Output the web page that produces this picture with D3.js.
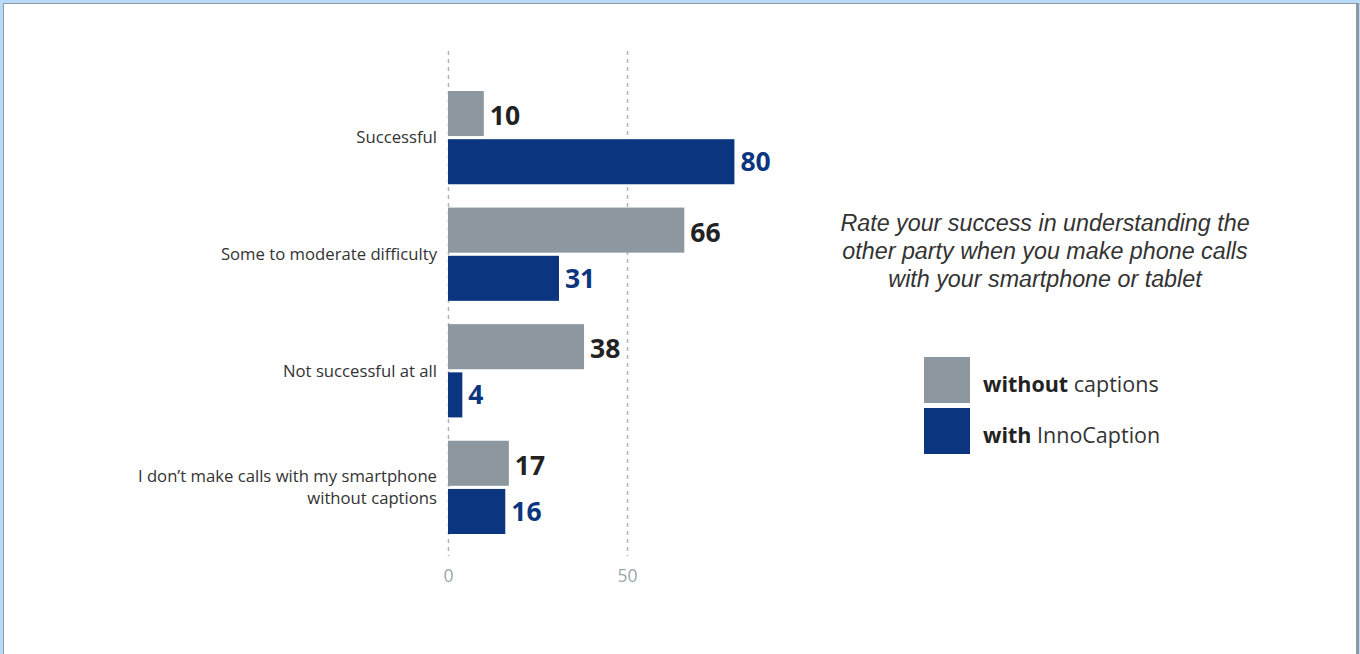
<!DOCTYPE html>
<html>
<head>
<meta charset="utf-8">
<script src="https://cdn.jsdelivr.net/npm/d3@7"></script>
<style>
  html, body { margin: 0; padding: 0; background: #b9d9f8; overflow: hidden; }
  svg { display: block; font-family: "Open Sans", Lato, sans-serif; }
</style>
</head>
<body>
<svg id="chart" width="1360" height="654"></svg>
<script>
// Survey answers, in percent
const categories = [
  "Successful",
  "Some to moderate difficulty",
  "Not successful at all",
  "I don\u2019t make calls with my smartphone\nwithout captions"
];
const seriesKeys = ["without", "with"];
const withoutCaptions = [10, 66, 38, 17];
const withInnoCaption = [80, 31, 4, 16];
const xTicks = [0, 50];
const legendBold = ["without", "with"];
const legendRest = [" captions", " InnoCaption"];
const titleLines = [
  "Rate your success in understanding the",
  "other party when you make phone calls",
  "with your smartphone or tablet"
];

const colors = { without: "#8c979f", with: "#0c3580" };
const labelColors = { without: "#222222", with: "#0c3580" };

const svg = d3.select("#chart");

// Panel frame
svg.append("rect").attr("x", 0).attr("y", 0).attr("width", 1360).attr("height", 654).attr("fill", "#b9d9f8");
svg.append("rect").attr("x", 3).attr("y", 3).attr("width", 1356).attr("height", 660).attr("fill", "#8d99a3");
svg.append("rect").attr("x", 4).attr("y", 4).attr("width", 1352).attr("height", 660).attr("fill", "#ffffff");

const rows = categories.map((c, i) => ({
  category: c,
  without: withoutCaptions[i],
  with: withInnoCaption[i]
}));

const x = d3.scaleLinear().domain([0, 100]).range([448, 806]);
const y0 = d3.scaleBand().domain(categories).range([91, 534]).paddingInner(0.2).paddingOuter(0);
const y1 = d3.scaleBand().domain(seriesKeys).range([0, y0.bandwidth()]).paddingInner(0.065);

// Dashed vertical grid
svg.append("g").selectAll("line").data(xTicks).join("line")
  .attr("x1", d => x(d) + 0.5).attr("x2", d => x(d) + 0.5)
  .attr("y1", 51).attr("y2", 556)
  .attr("stroke", "#b4b4b4").attr("stroke-width", 1.5)
  .attr("stroke-dasharray", "4,4");

// Tick labels
const xAxis = d3.axisBottom(x).tickValues(xTicks).tickSize(0).tickPadding(0);
const axisG = svg.append("g").attr("transform", "translate(0,568)").call(xAxis);
axisG.select(".domain").remove();
axisG.selectAll("text")
  .attr("font-family", "\"Open Sans\", sans-serif")
  .attr("font-size", 17.5)
  .attr("fill", "#9ba7b1")
  .attr("dy", "0.8em");

// Bars
const groups = svg.append("g").selectAll("g").data(rows).join("g")
  .attr("transform", d => `translate(0,${y0(d.category)})`);

groups.selectAll("rect").data(d => seriesKeys.map(k => ({ key: k, value: d[k] }))).join("rect")
  .attr("x", x(0))
  .attr("y", d => y1(d.key))
  .attr("width", d => x(d.value) - x(0))
  .attr("height", y1.bandwidth())
  .attr("fill", d => colors[d.key]);

// Value labels
groups.selectAll("text.value").data(d => seriesKeys.map(k => ({ key: k, value: d[k] }))).join("text")
  .attr("class", "value")
  .attr("x", d => x(d.value) + 6)
  .attr("y", d => y1(d.key) + y1.bandwidth() / 2 + (d.key === "without" ? 2 : 0))
  .attr("dy", "0.36em")
  .attr("font-size", 26.5)
  .attr("font-weight", 700)
  .attr("fill", d => labelColors[d.key])
  .text(d => d.value);

// Category labels
const catLabels = svg.append("g").selectAll("text").data(categories).join("text")
  .attr("x", 437)
  .attr("y", d => y0(d) + y0.bandwidth() / 2)
  .attr("text-anchor", "end")
  .attr("font-size", 16.7)
  .attr("fill", "#333333");
catLabels.each(function(d) {
  const lines = d.split("\n");
  const t = d3.select(this);
  lines.forEach((ln, i) => {
    t.append("tspan")
      .attr("x", 437)
      .attr("dy", i === 0 ? `${0.35 - (lines.length - 1) * 0.66}em` : "1.32em")
      .text(ln);
  });
});

// Title (oblique sans)
svg.append("g").selectAll("text").data(titleLines).join("text")
  .attr("x", 1045)
  .attr("y", (d, i) => 231 + i * 28)
  .attr("text-anchor", "middle")
  .attr("font-family", "\"Liberation Sans\", Arial, sans-serif")
  .attr("font-size", 23.3)
  .attr("font-style", "italic")
  .attr("fill", "#333333")
  .text(d => d);

// Legend
const legend = svg.append("g").selectAll("g").data(seriesKeys).join("g")
  .attr("transform", (d, i) => `translate(924,${357 + i * 51})`);
legend.append("rect").attr("width", 46).attr("height", 46).attr("fill", d => colors[d]);
const lt = legend.append("text").attr("x", 59).attr("y", 35).attr("font-size", 21.5).attr("fill", "#333333");
lt.append("tspan").attr("font-weight", 700).attr("fill", "#222222").text((d, i) => legendBold[i]);
lt.append("tspan").text((d, i) => legendRest[i]);
</script>
</body>
</html>
